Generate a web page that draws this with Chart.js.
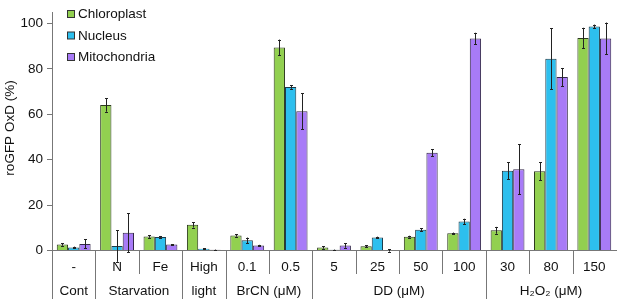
<!DOCTYPE html>
<html>
<head>
<meta charset="utf-8">
<script src="https://cdn.jsdelivr.net/npm/chart.js@4/dist/chart.umd.min.js"></script>
<style>
html,body{margin:0;padding:0;background:#fff;}
#wrap{width:617px;height:299px;}
</style>
</head>
<body>
<div id="wrap"><canvas id="c" width="617" height="299"></canvas></div>
<script>
const subLabels = ['-', 'N', 'Fe', 'High', '0.1', '0.5', '5', '25', '50', '100', '30', '80', '150'];
const groupLabels = ['Cont', 'Starvation', 'light', 'BrCN (μM)', 'DD (μM)', 'H₂O₂ (μM)'];
const groupStart = [0, 1, 3, 4, 6, 10];
const groupEnd = [0, 2, 3, 5, 9, 12];
const seriesNames = ['Chloroplast', 'Nucleus', 'Mitochondria'];
const chloroplast = [2.6, 64.1, 6.2, 11.3, 6.6, 89.4, 1.3, 1.9, 6.1, 7.6, 8.9, 34.9, 93.6];
const chloroplastErr = [0.5, 3.0, 0.6, 1.2, 0.5, 3.5, 0.5, 0.4, 0.4, 0.3, 1.5, 4.0, 4.5];
const nucleus = [1.3, 2.0, 6.0, 0.8, 4.5, 72.0, 0.3, 5.7, 9.1, 12.8, 35.1, 84.5, 98.7];
const nucleusErr = [0.4, 7.0, 0.4, 0.2, 1.2, 0.8, 0.1, 0.4, 0.6, 1.2, 3.8, 13.5, 0.8];
const mitochondria = [2.9, 7.8, 2.6, 0.3, 2.2, 61.3, 2.2, 0.0, 43.0, 93.4, 35.8, 76.4, 93.4];
const mitochondriaErr = [2.0, 8.5, 0.2, 0.1, 0.3, 8.0, 1.0, 0.5, 1.5, 2.5, 11.0, 4.0, 7.0];
const yTickValues = [0, 20, 40, 60, 80, 100];
const yTitle = 'roGFP OxD (%)';

const FONT = '"Liberation Sans", Arial, sans-serif';
const colors = ['#92D050', '#2DBFEE', '#A87BF7'];
const errs = [chloroplastErr, nucleusErr, mitochondriaErr];

const extras = {
  id: 'extras',
  afterDatasetsDraw(chart) {
    const ctx = chart.ctx;
    const y = chart.scales.y;
    ctx.save();
    ctx.strokeStyle = '#222';
    ctx.lineWidth = 1;
    chart.data.datasets.forEach((ds, di) => {
      const meta = chart.getDatasetMeta(di);
      meta.data.forEach((bar, i) => {
        const v = ds.data[i], e = errs[di][i];
        const x = Math.round(bar.x) + 0.5;
        const y1 = y.getPixelForValue(v + e), y2 = y.getPixelForValue(v - e);
        ctx.beginPath();
        ctx.moveTo(x, y1); ctx.lineTo(x, y2);
        ctx.moveTo(x - 1.5, Math.round(y1) + 0.5); ctx.lineTo(x + 1.5, Math.round(y1) + 0.5);
        ctx.moveTo(x - 1.5, Math.round(y2) + 0.5); ctx.lineTo(x + 1.5, Math.round(y2) + 0.5);
        ctx.stroke();
      });
    });
    ctx.restore();
  },
  afterDraw(chart) {
    const ctx = chart.ctx;
    const xs = chart.scales.x;
    const area = chart.chartArea;
    const bottom = area.bottom;
    ctx.save();
    ctx.strokeStyle = '#777';
    ctx.lineWidth = 1;
    const n = subLabels.length;
    const px = i => xs.getPixelForValue(i);
    const half = (px(1) - px(0)) / 2;
    // left axis extension
    ctx.beginPath();
    ctx.moveTo(Math.round(area.left) + 0.5, bottom);
    ctx.lineTo(Math.round(area.left) + 0.5, 299);
    ctx.stroke();
    for (let i = 0; i < n - 1; i++) {
      const bx = Math.round(px(i) + half) + 0.5;
      const isGroup = groupEnd.includes(i);
      ctx.beginPath();
      ctx.moveTo(bx, bottom);
      ctx.lineTo(bx, isGroup ? 299 : 274);
      ctx.stroke();
    }
    ctx.fillStyle = '#111';
    ctx.font = '13.5px ' + FONT;
    ctx.textAlign = 'center';
    ctx.textBaseline = 'middle';
    subLabels.forEach((s, i) => ctx.fillText(s, px(i), 267));
    groupLabels.forEach((g, k) => {
      const cx = (px(groupStart[k]) + px(groupEnd[k])) / 2;
      ctx.fillText(g, cx, 291);
    });
    // y title
    ctx.save();
    ctx.translate(10, 128);
    ctx.rotate(-Math.PI / 2);
    ctx.fillText(yTitle, 0, 0);
    ctx.restore();
    // legend
    const lx = 67, ly = [14, 35.5, 57];
    seriesNames.forEach((nm, i) => {
      ctx.fillStyle = colors[i];
      ctx.fillRect(lx + 0.5, ly[i] - 3.5, 7, 7);
      ctx.strokeStyle = '#333';
      ctx.strokeRect(lx + 0.5, ly[i] - 3.5, 7, 7);
      ctx.fillStyle = '#111';
      ctx.textAlign = 'left';
      ctx.fillText(nm, 78, ly[i] + 0.5);
    });
    ctx.restore();
  }
};

new Chart(document.getElementById('c'), {
  type: 'bar',
  data: {
    labels: subLabels,
    datasets: [
      { label: seriesNames[0], data: chloroplast, backgroundColor: colors[0], borderColor: '#2d3a1e', borderWidth: 1 },
      { label: seriesNames[1], data: nucleus, backgroundColor: colors[1], borderColor: '#1d3a48', borderWidth: 1 },
      { label: seriesNames[2], data: mitochondria, backgroundColor: colors[2], borderColor: '#34284a', borderWidth: 1 }
    ]
  },
  options: {
    responsive: false,
    animation: false,
    devicePixelRatio: 1,
    layout: { padding: { left: 0, top: 0, right: 1, bottom: 48.5 } },
    plugins: { legend: { display: false }, tooltip: { enabled: false } },
    datasets: { bar: { categoryPercentage: 0.78, barPercentage: 1.0 } },
    scales: {
      x: {
        ticks: { display: false },
        grid: { display: false, drawTicks: false },
        border: { display: true, color: '#777' },
        afterFit(s) { s.height = 0; }
      },
      y: {
        min: 0, max: 105,
        afterBuildTicks(s) { s.ticks = yTickValues.map(v => ({ value: v })); },
        afterFit(s) { s.width = 52; },
        ticks: { color: '#111', font: { family: FONT, size: 13.5 }, padding: 4 },
        grid: { drawOnChartArea: false, drawTicks: true, tickLength: 5, color: '#777' },
        border: { display: true, color: '#777' }
      }
    }
  },
  plugins: [extras]
});
</script>
</body>
</html>
